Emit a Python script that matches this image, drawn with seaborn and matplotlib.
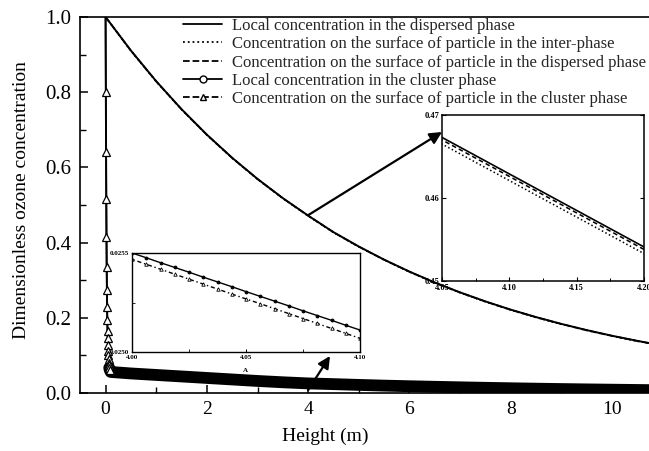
import matplotlib
matplotlib.use("Agg")
import matplotlib.pyplot as plt
from matplotlib.lines import Line2D
from matplotlib.ticker import MultipleLocator, FixedLocator
import seaborn as sns

# ---------------- data ----------------
disp_x = [0.0, 0.5, 1.0, 1.5, 2.0, 2.5, 3.0, 3.5, 4.0, 4.5, 5.0, 5.5,
          6.0, 6.5, 7.0, 7.5, 8.0, 8.5, 9.0, 9.5, 10.0, 10.5, 11.0]
disp_local = [1.0, 0.9108, 0.8291, 0.7547, 0.6870, 0.6254, 0.5693, 0.5182,
              0.4717, 0.4277, 0.3895, 0.3546, 0.3228, 0.2938, 0.2675, 0.2435,
              0.2216, 0.2018, 0.1837, 0.1672, 0.1522, 0.1386, 0.1261]
interphase_surf = [1.0, 0.9100, 0.8283, 0.7539, 0.6862, 0.6246, 0.5685, 0.5174,
                   0.4709, 0.4269, 0.3887, 0.3538, 0.3220, 0.2930, 0.2667, 0.2427,
                   0.2208, 0.2010, 0.1829, 0.1664, 0.1514, 0.1378, 0.1253]
disp_surf = [1.0, 0.9105, 0.8288, 0.7544, 0.6867, 0.6251, 0.5690, 0.5179,
             0.4714, 0.4274, 0.3892, 0.3543, 0.3225, 0.2935, 0.2672, 0.2432,
             0.2213, 0.2015, 0.1834, 0.1669, 0.1519, 0.1383, 0.1258]

clus_x = [0.0, 0.005, 0.01, 0.014, 0.018, 0.022, 0.026, 0.03, 0.034, 0.038,
          0.042, 0.046, 0.05, 0.054, 0.058, 0.062, 0.066, 0.072, 0.08, 0.1,
          0.5, 1.0, 1.5, 2.0, 2.5, 3.0, 3.5,
          4.0, 4.00625, 4.0125, 4.01875, 4.025, 4.03125, 4.0375, 4.04375, 4.05,
          4.05625, 4.0625, 4.06875, 4.075, 4.08125, 4.0875, 4.09375, 4.1,
          4.5, 5.0, 5.5, 6.0, 6.5, 7.0, 7.5, 8.0, 8.5, 9.0, 9.5, 10.0, 10.5, 11.0]
clus_local = [1.0, 0.8, 0.64, 0.515, 0.415, 0.335, 0.275, 0.23, 0.193, 0.165,
              0.145, 0.128, 0.113, 0.1, 0.09, 0.081, 0.074, 0.067, 0.062, 0.056,
              0.052, 0.048, 0.044, 0.040, 0.036, 0.032, 0.0285,
              0.025500, 0.025476, 0.025451, 0.025427, 0.025403, 0.025378, 0.025354,
              0.025330, 0.025305, 0.025281, 0.025257, 0.025233, 0.025208, 0.025184,
              0.025160, 0.025135, 0.025111,
              0.0236, 0.0215, 0.0196, 0.0180, 0.0165, 0.0151, 0.0138, 0.0126,
              0.0115, 0.0105, 0.0096, 0.0088, 0.0080, 0.0073]
clus_surf = [1.0, 0.8, 0.64, 0.515, 0.415, 0.335, 0.275, 0.23, 0.193, 0.165,
             0.145, 0.128, 0.113, 0.1, 0.09, 0.081, 0.074, 0.067, 0.062, 0.056,
             0.05196, 0.04796, 0.04396, 0.03996, 0.03596, 0.03196, 0.02846,
             0.025468, 0.025443, 0.025418, 0.025393, 0.025368, 0.025343, 0.025318,
             0.025293, 0.025268, 0.025244, 0.025219, 0.025194, 0.025169, 0.025144,
             0.025119, 0.025094, 0.025069,
             0.02356, 0.02146, 0.01956, 0.01796, 0.01646, 0.01506, 0.01376, 0.01256,
             0.01146, 0.01046, 0.00956, 0.00876, 0.00796, 0.00726]

labels = ["Local concentration in the dispersed phase",
          "Concentration on the surface of particle in the inter-phase",
          "Concentration on the surface of particle in the dispersed phase",
          "Local concentration in the cluster phase",
          "Concentration on the surface of particle in the cluster phase"]

main_xticks = [0, 2, 4, 6, 8, 10]
main_yticks = [0.0, 0.2, 0.4, 0.6, 0.8, 1.0]

# ---------------- style ----------------
sns.set_theme(style="ticks")
plt.rcParams['font.family'] = ['Liberation Serif', 'DejaVu Serif']
plt.rcParams['mathtext.fontset'] = 'stix'

W, H = 649, 451
fig = plt.figure(figsize=(W / 100, H / 100), dpi=100)
fig.patch.set_facecolor('white')


def px_axes(x0, x1, y0, y1):
    return [x0 / W, (H - y1) / H, (x1 - x0) / W, (y1 - y0) / H]


ax = fig.add_axes(px_axes(80, 660, 17, 393))
ax.set_facecolor('white')
K = 'black'

sns.lineplot(x=disp_x, y=disp_local, ax=ax, color=K, lw=1.4, sort=False, legend=False)
sns.lineplot(x=disp_x, y=interphase_surf, ax=ax, color=K, lw=1.2, ls=':', sort=False, legend=False)
sns.lineplot(x=disp_x, y=disp_surf, ax=ax, color=K, lw=1.2, ls='--', sort=False, legend=False)

# cluster phase: thin line near zero, thick band of dense points afterwards
sns.lineplot(x=clus_x, y=clus_local, ax=ax, color=K, lw=1.4, sort=False, legend=False)
sns.lineplot(x=clus_x[17:], y=clus_local[17:], ax=ax, color=K, lw=8.5,
             solid_capstyle='round', sort=False, legend=False)
sns.lineplot(x=clus_x[:19], y=clus_surf[:19], ax=ax, color=K, lw=1.2, ls='-',
             marker='^', ms=5.5, mfc='white', mec=K, mew=0.9,
             markevery=list(range(1, 19)), sort=False, legend=False)

ax.set_xlim(-0.505, 10.946)
ax.set_ylim(0, 1.0)
ax.xaxis.set_major_locator(FixedLocator(main_xticks))
ax.yaxis.set_major_locator(FixedLocator(main_yticks))
ax.xaxis.set_minor_locator(MultipleLocator(1))
ax.yaxis.set_minor_locator(MultipleLocator(0.1))
ax.set_xticklabels([str(v) for v in main_xticks])
ax.set_yticklabels([f"{v:.1f}" for v in main_yticks])
ax.tick_params(axis='both', which='major', direction='in', length=6, width=1.1,
               labelsize=14, colors=K, pad=6)
ax.tick_params(axis='y', which='major', labelsize=15)
ax.tick_params(axis='both', which='minor', direction='in', length=4, width=1.0, colors=K)
for s in ax.spines.values():
    s.set_color(K)
    s.set_linewidth(1.2)

ax.set_xlabel("Height (m)", fontsize=14, color=K)
ax.set_ylabel("Dimensionless ozone concentration", fontsize=14, color=K)
ax.xaxis.set_label_coords((325 - 80) / 580, (393 - 428) / 376)
ax.yaxis.set_label_coords((30 - 80) / 580, (393 - 200) / 376)

handles = [
    Line2D([], [], color=K, lw=1.3, ls='-'),
    Line2D([], [], color=K, lw=1.3, ls=':'),
    Line2D([], [], color=K, lw=1.3, ls='--'),
    Line2D([], [], color=K, lw=1.3, ls='-', marker='o', ms=5, mfc='white', mec=K),
    Line2D([], [], color=K, lw=1.3, ls='--', marker='^', ms=5, mfc='white', mec=K),
]
fig.legend(handles, labels, loc='upper left', bbox_to_anchor=(183 / W, 1 - 18 / H),
           bbox_transform=fig.transFigure, frameon=False, fontsize=12,
           handlelength=2.35, handletextpad=0.6, labelspacing=0.14,
           borderpad=0, borderaxespad=0)

# ---------------- inset 1 (dispersed phase) ----------------
in1 = fig.add_axes(px_axes(442, 644, 115, 281))
in1.set_facecolor('white')
sns.lineplot(x=disp_x, y=disp_local, ax=in1, color=K, lw=1.2, sort=False, legend=False)
sns.lineplot(x=disp_x, y=disp_surf, ax=in1, color=K, lw=1.1, ls=(0, (3, 2)), sort=False, legend=False)
sns.lineplot(x=disp_x, y=interphase_surf, ax=in1, color=K, lw=1.1, ls=(0, (1, 1.6)), sort=False, legend=False)
in1.set_xlim(4.05, 4.20)
in1.set_ylim(0.45, 0.47)
in1.xaxis.set_major_locator(FixedLocator([4.05, 4.10, 4.15, 4.20]))
in1.yaxis.set_major_locator(FixedLocator([0.45, 0.46, 0.47]))
in1.xaxis.set_minor_locator(FixedLocator([4.075, 4.125, 4.175]))
in1.set_xticklabels(["4.05", "4.10", "4.15", "4.20"])
in1.set_yticklabels(["0.45", "0.46", "0.47"])
for lab in in1.get_xticklabels() + in1.get_yticklabels():
    lab.set_fontweight('bold')
in1.tick_params(axis='both', which='major', direction='in', length=3, width=0.8,
                labelsize=6, colors=K, pad=2, right=True)
in1.tick_params(axis='both', which='minor', direction='in', length=2, width=0.7, colors=K)
for s in in1.spines.values():
    s.set_color(K)
    s.set_linewidth(1.1)
in1.set_xlabel("")
in1.set_ylabel("")

# ---------------- inset 2 (cluster phase) ----------------
in2 = fig.add_axes(px_axes(132, 360, 253, 352))
in2.set_facecolor('white')
sns.lineplot(x=clus_x, y=clus_local, ax=in2, color=K, lw=1.0, marker='o', ms=2,
             mfc=K, mec=K, sort=False, legend=False)
sns.lineplot(x=clus_x, y=clus_surf, ax=in2, color=K, lw=1.0, ls=(0, (3, 2, 1, 2)),
             marker='^', ms=2.5, mfc='white', mec=K, mew=0.6, sort=False, legend=False)
in2.set_xlim(4.00, 4.10)
in2.set_ylim(0.0250, 0.0255)
in2.xaxis.set_major_locator(FixedLocator([4.00, 4.05, 4.10]))
in2.yaxis.set_major_locator(FixedLocator([0.0250, 0.0255]))
in2.xaxis.set_minor_locator(FixedLocator([4.025, 4.075]))
in2.yaxis.set_minor_locator(FixedLocator([0.02525]))
in2.set_xticklabels(["4.00", "4.05", "4.10"])
in2.set_yticklabels(["0.0250", "0.0255"])
for lab in in2.get_xticklabels() + in2.get_yticklabels():
    lab.set_fontweight('bold')
in2.tick_params(axis='both', which='major', direction='in', length=2.5, width=0.7,
                labelsize=5, colors=K, pad=2)
in2.tick_params(axis='both', which='minor', direction='in', length=2, width=0.6, colors=K)
for s in in2.spines.values():
    s.set_color(K)
    s.set_linewidth(1.0)
in2.set_xlabel("")
in2.set_ylabel("")
in2.text((245 - 132) / 228, (352 - 371) / 99, "A", transform=in2.transAxes,
         fontsize=5, fontweight='bold', ha='center', va='center', color=K)

# ---------------- arrows ----------------
ax.annotate("", xy=(0.0, (281 - 132) / 166), xycoords=in1.transAxes,
            xytext=(4.0, 0.473), textcoords='data',
            arrowprops=dict(arrowstyle='-|>', color=K, lw=1.6, mutation_scale=18,
                            shrinkA=0, shrinkB=0), annotation_clip=False)
ax.annotate("", xy=((330 - 132) / 228, (352 - 356) / 99), xycoords=in2.transAxes,
            xytext=(4.0, 0.008), textcoords='data',
            arrowprops=dict(arrowstyle='-|>', color=K, lw=1.6, mutation_scale=18,
                            shrinkA=0, shrinkB=0), annotation_clip=False)

fig.savefig("out.png", dpi=100, facecolor='white')
